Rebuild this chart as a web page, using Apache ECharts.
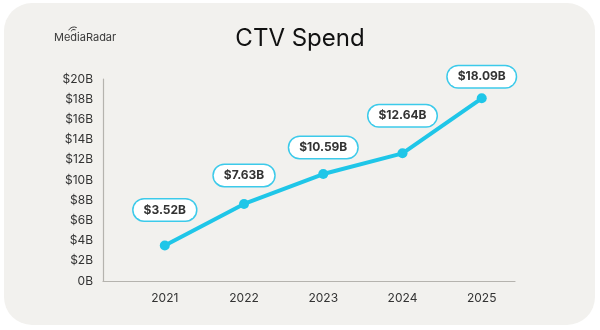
<!DOCTYPE html>
<html>
<head>
<meta charset="utf-8">
<script src="https://cdn.jsdelivr.net/npm/echarts@6/dist/echarts.min.js"></script>
<style>
html,body{margin:0;padding:0;background:#ffffff;}
#c{width:600px;height:330px;}
</style>
</head>
<body>
<div id="c"></div>
<script>
var years = [2021, 2022, 2023, 2024, 2025];
var spend = [3.52, 7.63, 10.59, 12.64, 18.09];
var yTicks = [0, 2, 4, 6, 8, 10, 12, 14, 16, 18, 20];
var labelGap = [20, 13, 11, 22, 6];

var chart = echarts.init(document.getElementById('c'));
var FONT = 'Inter, "Open Sans", sans-serif';
var CYAN = '#1fc6e8';

var seriesData = years.map(function (y, i) {
  return {
    value: [y, spend[i]],
    label: { distance: labelGap[i] }
  };
});

chart.setOption({
  backgroundColor: '#ffffff',
  animation: false,
  graphic: [
    {
      type: 'rect', z: -10,
      shape: { x: 4, y: 3, width: 591, height: 322, r: 28 },
      style: { fill: '#f2f1ee' }
    },
    {
      type: 'text', left: 54, top: 32,
      style: { text: 'MediaRadar', font: '11px ' + FONT, fill: '#3a3a3a' }
    },
    {
      type: 'arc', shape: { cx: 74, cy: 33, r: 3.5, startAngle: -Math.PI * 0.85, endAngle: -Math.PI * 0.35 },
      style: { stroke: '#3a3a3a', lineWidth: 1, fill: null }
    },
    {
      type: 'arc', shape: { cx: 74, cy: 33, r: 6, startAngle: -Math.PI * 0.85, endAngle: -Math.PI * 0.35 },
      style: { stroke: '#3a3a3a', lineWidth: 1, fill: null }
    }
  ],
  title: {
    text: 'CTV Spend',
    left: 'center',
    top: 22,
    textStyle: { fontFamily: FONT, fontSize: 24, fontWeight: 'normal', color: '#111111' }
  },
  grid: { left: 103, right: 85, top: 79, bottom: 49, containLabel: false },
  xAxis: {
    type: 'value',
    min: 2020.22,
    max: 2025.42,
    splitLine: { show: false },
    axisLine: { show: true, lineStyle: { color: '#b5b3ae', width: 1.2 } },
    axisTick: { show: false },
    axisLabel: {
      customValues: years,
      formatter: function (v) { return String(Math.round(v)); },
      margin: 11,
      fontFamily: FONT, fontSize: 12, color: '#333333'
    }
  },
  yAxis: {
    type: 'value',
    min: 0,
    max: 20,
    interval: 2,
    splitLine: { show: false },
    axisLine: { show: true, lineStyle: { color: '#b5b3ae', width: 1.2 } },
    axisTick: { show: false },
    axisLabel: {
      customValues: yTicks,
      formatter: function (v) { return v === 0 ? '0B' : '$' + v + 'B'; },
      margin: 10,
      fontFamily: FONT, fontSize: 12, color: '#333333'
    }
  },
  series: [{
    type: 'line',
    data: seriesData,
    symbol: 'circle',
    symbolSize: 10,
    lineStyle: { color: CYAN, width: 4 },
    itemStyle: { color: CYAN },
    label: {
      show: true,
      position: 'top',
      formatter: function (p) { return '$' + p.value[1].toFixed(2) + 'B'; },
      fontFamily: FONT, fontSize: 12, fontWeight: 'bold', color: '#333333',
      backgroundColor: '#ffffff',
      borderColor: '#3ccaea', borderWidth: 1.5, borderRadius: 11,
      padding: [4, 10, 4, 10], lineHeight: 13
    }
  }]
});
</script>
</body>
</html>
